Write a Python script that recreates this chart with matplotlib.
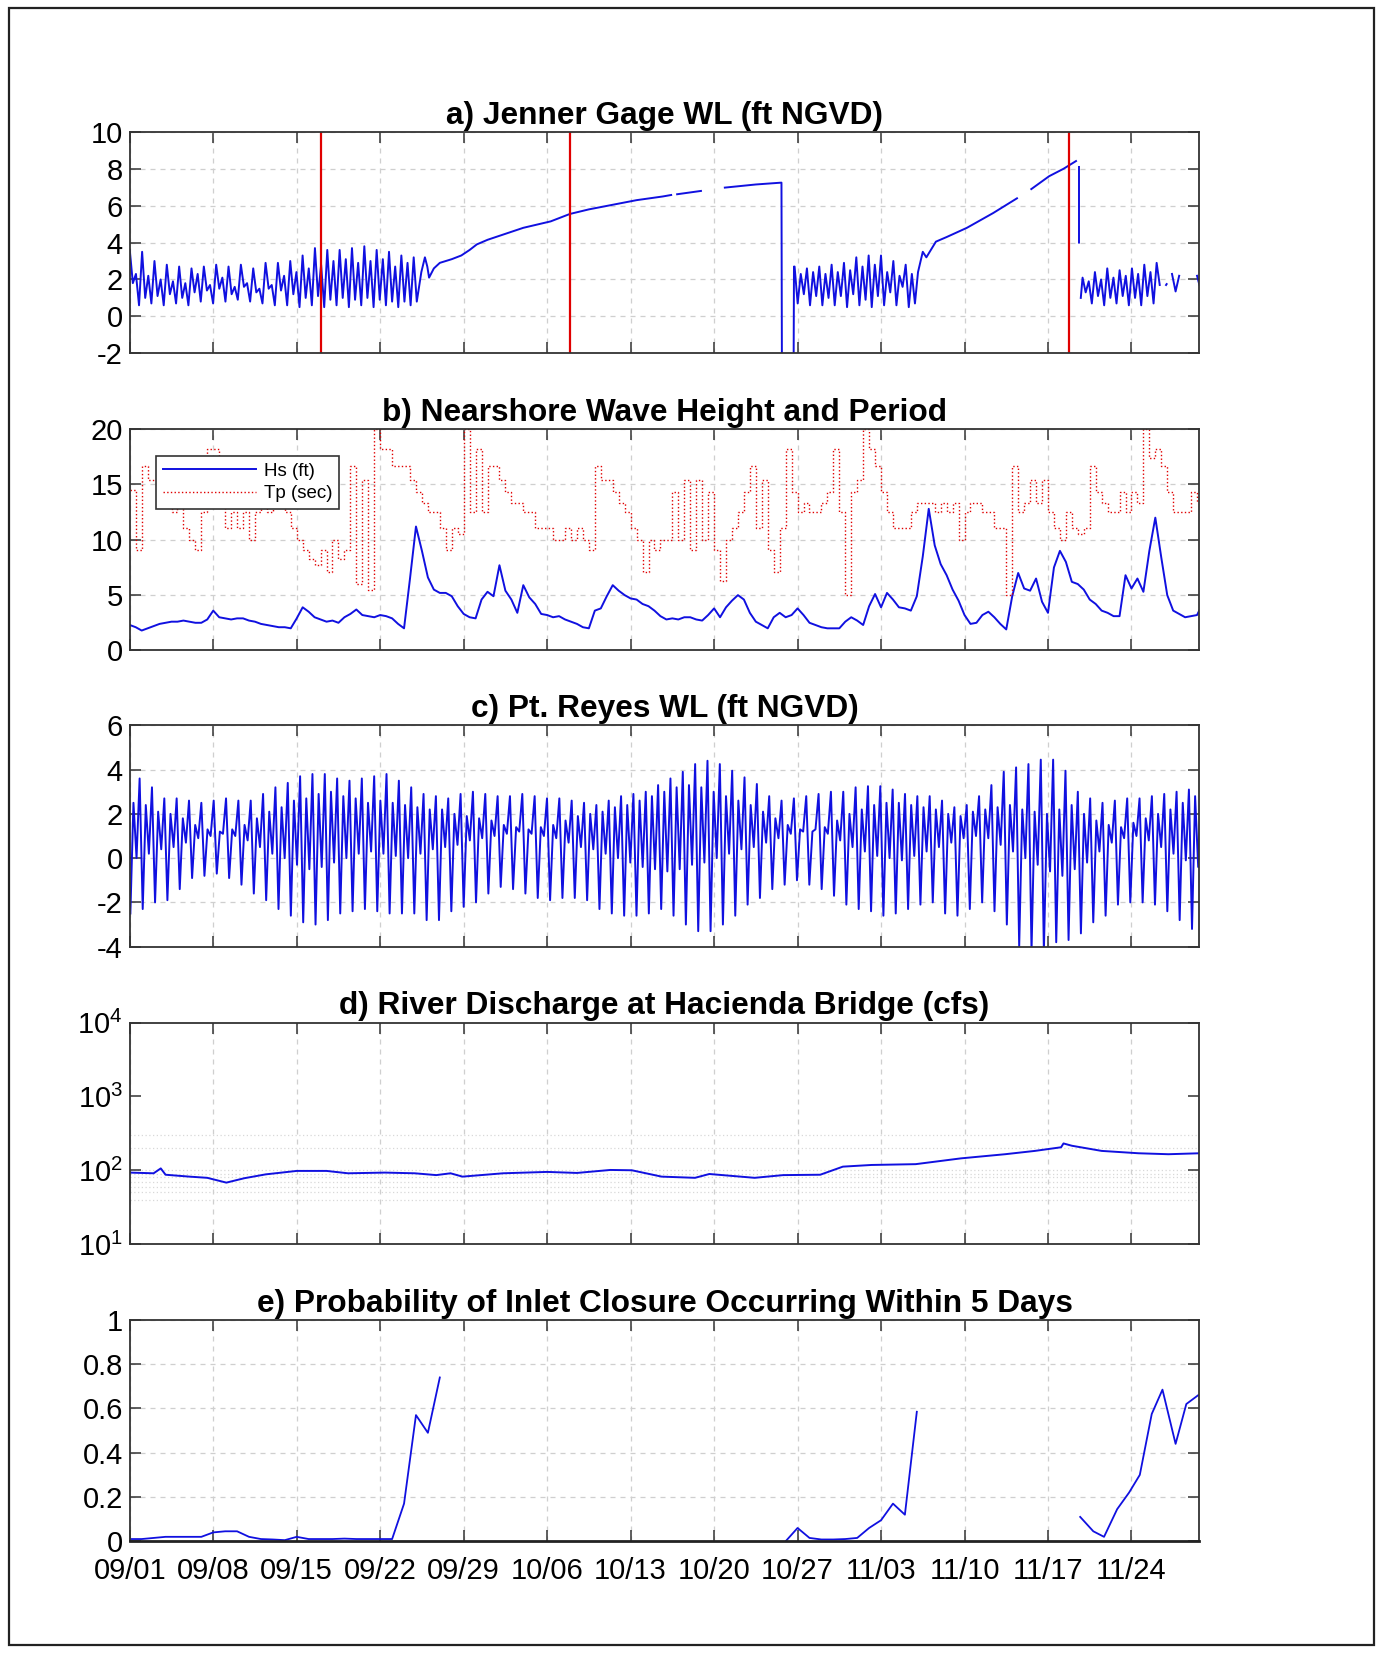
import numpy as np
import matplotlib
matplotlib.use("Agg")
import matplotlib.pyplot as plt
from matplotlib.patches import Rectangle

plt.rcParams['font.family'] = ['Liberation Sans', 'DejaVu Sans']
plt.rcParams['mathtext.default'] = 'regular'
plt.rcParams['axes.unicode_minus'] = False

# time axis: days after 09/01 00:00
x_end = 89.7
tick_days = [0, 7, 14, 21, 28, 35, 42, 49, 56, 63, 70, 77, 84]
tick_labels = ['09/01', '09/08', '09/15', '09/22', '09/29', '10/06', '10/13',
               '10/20', '10/27', '11/03', '11/10', '11/17', '11/24']
tide_step = 0.2588  # time between tidal extremes, in days

# ---- a) Jenner gage WL: tidal highs / lows, open inlet periods
jen_hi1 = [3.6, 2.3, 3.5, 2.2, 3.0, 2.0, 2.8, 1.9, 2.7, 1.8, 2.6, 2.3, 2.7, 1.7, 2.8, 2.1,
           2.7, 1.6, 2.8, 1.8, 2.6, 1.5, 2.9, 1.7, 2.9, 2.2, 3.0, 2.4, 3.3, 2.6, 3.7, 2.8,
           3.6, 3.0, 3.6, 3.1, 3.7, 2.9, 3.8, 3.0, 3.6, 3.1, 3.5, 2.7, 3.3, 2.9, 3.2]
jen_lo1 = [1.8, 0.6, 1.0, 0.7, 1.1, 0.6, 1.2, 0.7, 1.0, 0.6, 1.3, 0.8, 1.4, 0.7, 1.5, 0.8,
           1.2, 0.9, 1.6, 0.8, 1.3, 0.7, 1.5, 0.6, 1.4, 0.6, 1.2, 0.5, 1.0, 0.6, 1.1, 0.5,
           0.9, 0.6, 1.0, 0.5, 0.9, 0.6, 1.0, 0.5, 0.9, 0.6, 0.8, 0.5, 0.8, 0.6, 0.8]
# closed lagoon filling (first closure) and drop at breach
jen_fill1_day = [24.45, 24.75, 24.95, 25.1, 25.5, 26.0, 27.0, 27.8, 28.5, 29.1, 30.0, 31.6,
                 33.0, 35.3, 36.9, 38.5, 40.9, 42.5, 44.7, 45.4, 45.6, 45.9, 47.9, 48.2,
                 49.9, 52.5, 54.65, 54.7, 55.65, 55.7]
jen_fill1_val = [2.4, 3.2, 2.7, 2.1, 2.6, 2.9, 3.1, 3.3, 3.6, 3.9, 4.15, 4.5,
                 4.8, 5.15, 5.55, 5.8, 6.1, 6.3, 6.5, 6.58, np.nan, 6.62, 6.8, np.nan,
                 6.98, 7.15, 7.25, -6.0, -6.0, 2.7]
jen_hi2 = [2.7, 2.3, 2.6, 2.4, 2.7, 2.3, 2.8, 2.4, 2.9, 2.5, 3.2, 2.7, 3.3, 2.8, 3.3, 2.4,
           3.0, 2.2, 2.8, 2.3]
jen_lo2 = [0.7, 1.2, 0.6, 1.1, 0.6, 1.0, 0.6, 1.1, 0.5, 1.2, 0.6, 0.9, 0.5, 1.1, 0.6, 1.3,
           0.6, 1.6, 0.5, 0.7]
jen_fill2_day = [66.1, 66.5, 66.8, 67.6, 68.5, 70.2, 72.4, 74.4, 74.6, 74.9, 75.3, 75.6,
                 77.1, 78.3, 79.35, 79.45, 79.6, 79.6, 79.7, 79.75]
jen_fill2_val = [2.4, 3.5, 3.2, 4.05, 4.3, 4.8, 5.6, 6.4, np.nan, 6.55, np.nan, 6.9,
                 7.6, 8.0, 8.42, np.nan, 8.1, 4.0, np.nan, 1.0]
jen_hi3 = [2.1, 1.9, 2.4, 2.0, 2.6, 2.1, 2.5, 2.2, 2.6, 2.3, 2.8, 2.4, 2.9]
jen_lo3 = [1.3, 0.7, 1.1, 0.6, 1.0, 0.7, 1.1, 0.6, 1.0, 0.6, 1.1, 0.7, 1.7]
jen_tail_day = [86.5, 86.9, 86.95, 87.1, 87.4, 87.7, 88.0, 88.3, 89.5, 89.7]
jen_tail_val = [np.nan, 1.7, 1.75, np.nan, 2.3, 1.35, 2.2, np.nan, 2.2, 1.7]
breach_days = [16.0, 36.9, 78.8]

# ---- b) nearshore Hs (ft) and Tp (s), every 12 h from 09/01
hs = [2.3, 2.1, 1.8, 2.0, 2.2, 2.4, 2.5, 2.6, 2.6, 2.7, 2.6, 2.5, 2.5, 2.8, 3.6, 3.0,
      2.9, 2.8, 2.9, 2.9, 2.7, 2.6, 2.4, 2.3, 2.2, 2.1, 2.1, 2.0, 2.9, 3.9, 3.5, 3.0,
      2.8, 2.6, 2.7, 2.5, 3.0, 3.3, 3.7, 3.2, 3.1, 3.0, 3.2, 3.1, 2.9, 2.4, 2.0, 6.5,
      11.2, 9.0, 6.6, 5.5, 5.2, 5.2, 4.9, 4.0, 3.3, 3.0, 2.9, 4.6, 5.3, 4.9, 7.7, 5.4,
      4.6, 3.4, 5.9, 4.8, 4.2, 3.3, 3.2, 3.0, 3.1, 2.8, 2.6, 2.4, 2.1, 2.0, 3.6, 3.8,
      4.9, 5.9, 5.4, 5.0, 4.7, 4.6, 4.2, 4.0, 3.6, 3.1, 2.8, 2.9, 2.8, 3.0, 3.0, 2.8,
      2.7, 3.2, 3.8, 3.0, 3.9, 4.5, 5.0, 4.6, 3.4, 2.6, 2.3, 2.0, 3.0, 3.4, 3.0, 3.2,
      3.8, 3.2, 2.5, 2.3, 2.1, 2.0, 2.0, 2.0, 2.6, 3.0, 2.7, 2.3, 4.0, 5.1, 3.9, 5.2,
      4.6, 3.9, 3.8, 3.6, 4.9, 8.5, 12.8, 9.5, 7.8, 6.8, 5.5, 4.5, 3.2, 2.4, 2.5, 3.2,
      3.5, 3.0, 2.4, 1.9, 4.9, 7.0, 5.6, 5.4, 6.5, 4.4, 3.4, 7.5, 9.0, 8.0, 6.2, 6.0,
      5.5, 4.6, 4.2, 3.6, 3.4, 3.1, 3.1, 6.8, 5.6, 6.5, 5.3, 9.0, 12.0, 8.4, 5.0, 3.6,
      3.3, 3.0, 3.1, 3.2, 4.3]
tp = [14.5, 9.1, 16.7, 15.4, 15.4, 14.3, 14.3, 12.5, 14.3, 11.1, 10.0, 9.1, 12.5, 18.2, 18.2, 14.3,
      11.1, 12.5, 11.1, 12.5, 10.0, 12.5, 14.3, 12.5, 14.3, 13.3, 12.5, 11.1, 10.0, 9.1, 8.3, 7.7,
      9.1, 7.1, 10.0, 8.3, 9.1, 16.7, 6.0, 15.4, 5.5, 20.0, 18.2, 18.2, 16.7, 16.7, 16.7, 15.4,
      14.3, 13.3, 12.5, 12.5, 11.1, 9.1, 11.1, 10.5, 20.0, 12.5, 18.2, 12.5, 16.7, 16.7, 15.4, 14.3,
      13.3, 13.3, 12.5, 12.5, 11.1, 11.1, 11.1, 10.0, 10.0, 11.1, 10.0, 11.1, 10.0, 9.1, 16.7, 15.4,
      15.4, 14.3, 13.3, 12.5, 11.1, 10.0, 7.1, 10.0, 9.1, 10.0, 10.0, 14.3, 10.0, 15.4, 9.1, 15.4,
      10.0, 14.3, 9.1, 6.3, 10.0, 11.1, 12.5, 14.3, 16.7, 11.1, 15.4, 9.1, 7.1, 11.1, 18.2, 14.3,
      12.5, 13.3, 12.5, 12.5, 13.3, 14.3, 18.2, 12.5, 5.0, 14.3, 15.4, 20.0, 18.2, 16.7, 14.3, 12.5,
      11.1, 11.1, 11.1, 12.5, 13.3, 13.3, 13.3, 12.5, 13.3, 12.5, 13.3, 10.0, 12.5, 13.3, 13.3, 12.5,
      12.5, 11.1, 11.1, 5.0, 16.7, 12.5, 13.3, 15.4, 13.3, 15.4, 12.5, 11.1, 10.0, 12.5, 11.1, 10.5,
      11.1, 16.7, 14.3, 13.3, 12.5, 12.5, 14.3, 12.5, 14.3, 13.3, 20.0, 17.4, 18.2, 16.7, 14.3, 12.5,
      12.5, 12.5, 14.3, 13.3]

# ---- c) Pt. Reyes WL, per tidal day: lower low, lower high, higher low, higher high
reyes_ll = [-2.5, -2.3, -2.0, -1.9, -1.4, -0.9, -0.8, -0.7, -0.9, -1.2,
            -1.6, -1.9, -2.3, -2.6, -2.9, -3.0, -2.8, -2.5, -2.4, -2.3,
            -2.4, -2.5, -2.5, -2.5, -2.8, -2.8, -2.4, -2.2, -2.0, -1.6,
            -1.3, -1.4, -1.6, -1.8, -1.9, -1.8, -1.8, -1.9, -2.3, -2.5,
            -2.6, -2.6, -2.5, -2.3, -2.6, -3.0, -3.3, -3.3, -3.0, -2.6,
            -2.1, -1.8, -1.4, -1.2, -1.0, -1.2, -1.4, -1.7, -2.1, -2.3,
            -2.4, -2.6, -2.5, -2.3, -2.1, -2.0, -2.5, -2.6, -2.3, -2.0,
            -2.4, -3.0, -4.0, -4.2, -4.2, -3.8, -3.7, -3.4, -2.9, -2.6,
            -2.1, -2.0, -2.0, -2.1, -2.4, -2.8, -3.2]
reyes_lh = [2.5, 2.4, 2.1, 2.0, 1.8, 1.5, 1.3, 1.2, 1.3, 1.5,
            1.8, 2.1, 2.3, 2.6, 2.7, 2.9, 3.0, 2.8, 2.7, 2.5,
            2.6, 2.5, 2.4, 2.3, 2.2, 2.2, 2.0, 1.9, 1.8, 1.7,
            1.5, 1.4, 1.3, 1.4, 1.5, 1.7, 1.9, 2.0, 2.1, 2.3,
            2.4, 2.6, 2.8, 3.0, 3.2, 3.3, 3.2, 3.0, 2.8, 2.6,
            2.4, 2.1, 1.8, 1.5, 1.3, 1.2, 1.4, 1.7, 2.0, 2.2,
            2.4, 2.5, 2.5, 2.4, 2.3, 2.2, 2.0, 1.9, 2.1, 2.2,
            2.3, 2.4, 2.2, 2.1, 2.0, 2.2, 2.4, 2.0, 1.7, 1.5,
            1.4, 1.6, 1.8, 2.0, 2.2, 2.5, 2.8]
reyes_hl = [0.0, 0.2, 0.4, 0.5, 0.7, 0.9, 1.0, 1.1, 1.0, 0.8,
            0.5, 0.2, 0.0, -0.3, -0.5, -0.4, -0.2, 0.0, 0.2, 0.3,
            0.2, 0.1, 0.0, 0.2, 0.4, 0.5, 0.6, 0.8, 0.9, 1.0,
            1.1, 1.2, 1.1, 1.0, 0.9, 0.7, 0.5, 0.4, 0.2, 0.0,
            -0.2, -0.4, -0.5, -0.6, -0.5, -0.3, -0.2, 0.0, 0.2, 0.4,
            0.5, 0.7, 0.9, 1.1, 1.2, 1.3, 1.1, 0.8, 0.5, 0.3,
            0.1, 0.0, -0.1, 0.1, 0.3, 0.5, 0.7, 0.9, 1.0, 0.9,
            0.6, 0.3, 0.0, -0.3, -0.6, -0.8, -0.5, -0.2, 0.3, 0.7,
            0.9, 1.0, 0.8, 0.5, 0.2, -0.1, -0.4]
reyes_hh = [3.6, 3.2, 2.7, 2.7, 2.6, 2.5, 2.6, 2.7, 2.6, 2.6,
            2.9, 3.2, 3.4, 3.7, 3.8, 3.8, 3.6, 3.5, 3.6, 3.7,
            3.8, 3.5, 3.2, 2.9, 2.8, 2.7, 2.9, 3.0, 2.9, 2.8,
            2.8, 2.9, 2.8, 2.7, 2.7, 2.6, 2.5, 2.4, 2.6, 2.8,
            2.9, 3.0, 3.3, 3.6, 3.9, 4.25, 4.4, 4.25, 3.95, 3.65,
            3.35, 2.8, 2.6, 2.7, 2.8, 2.9, 3.0, 3.0, 3.2, 3.25,
            3.25, 3.1, 2.9, 2.8, 2.8, 2.6, 2.3, 2.4, 2.8, 3.3,
            3.9, 4.1, 4.25, 4.45, 4.45, 3.95, 3.0, 2.7, 2.5, 2.6,
            2.7, 2.7, 2.8, 2.9, 3.0, 3.1, 3.2]

# ---- d) river discharge (cfs)
q_day = [0, 2.0, 2.6, 3.0, 5.0, 6.5, 8.1, 9.6, 11.4, 14.0, 16.5, 18.3, 21.4, 23.9, 25.7,
         26.9, 27.9, 31.3, 35.0, 37.5, 40.3, 42.1, 44.6, 47.4, 48.6, 52.4, 54.8, 57.9,
         59.8, 62.2, 65.9, 69.7, 73.4, 75.9, 78.1, 78.3, 79.0, 81.5, 84.6, 87.1, 89.7]
q_cfs = [93, 91, 106, 87, 82, 79, 68, 78, 88, 98, 98, 91, 93, 91, 86,
         91, 82, 91, 95, 92, 101, 100, 82, 79, 89, 79, 86, 87,
         112, 118, 121, 145, 165, 183, 205, 231, 215, 183, 170, 165, 170]
q_grid = [40, 50, 60, 70, 80, 90, 100, 200, 300]

# ---- e) probability of closure within 5 days
p1_day = [0, 1, 2, 3, 4, 5, 6, 7, 8, 9, 10, 11, 12, 13, 14, 15, 16, 17, 18, 19, 20, 21,
          22, 23, 24, 25, 26]
p1 = [0.01, 0.01, 0.015, 0.02, 0.02, 0.02, 0.02, 0.04, 0.045, 0.045, 0.02, 0.01, 0.008,
      0.005, 0.02, 0.01, 0.01, 0.01, 0.012, 0.01, 0.01, 0.01, 0.01, 0.17, 0.57, 0.49, 0.74]
p2_day = [55, 56, 57, 58, 59, 60, 61, 62, 63, 64, 65, 66]
p2 = [0.0, 0.06, 0.015, 0.008, 0.008, 0.01, 0.015, 0.06, 0.095, 0.17, 0.12, 0.585]
p3_day = [79.7, 80.8, 81.7, 82.8, 83.8, 84.7, 85.7, 86.6, 87.7, 88.6, 89.6]
p3 = [0.11, 0.045, 0.02, 0.145, 0.22, 0.30, 0.575, 0.685, 0.44, 0.62, 0.66]


def tides(start, hi, lo):
    vals = np.empty(len(hi) + len(lo))
    vals[0::2] = hi
    vals[1::2] = lo
    return start + np.arange(len(vals)) * tide_step, vals


def style(ax, labels=False):
    ax.set_xlim(0, x_end)
    ax.set_xticks(tick_days)
    if labels:
        ax.set_xticklabels(tick_labels)
    else:
        ax.set_xticklabels([])
    ax.grid(True, which='major', color='#cfcfcf', ls=(0, (4, 4)), lw=0.9)
    ax.tick_params(direction='in', top=True, right=True, length=8, width=1.1,
                   labelsize=21, pad=5, color='#333333')
    ax.tick_params(axis='x', pad=11)
    for s in ax.spines.values():
        s.set_color('#333333')
        s.set_linewidth(1.3)


fig = plt.figure(figsize=(13.82, 16.53), dpi=100)
L, W, H = 0.0939, 0.774, 0.1339
blue = '#1010e0'
tfont = dict(fontsize=22.8, fontweight='bold')

# a)
ax = fig.add_axes([L, 0.7863, W, H])
t1, v1 = tides(0.0, jen_hi1, jen_lo1)
t2, v2 = tides(55.75, jen_hi2, jen_lo2)
t3, v3 = tides(79.9, jen_hi3, jen_lo3)
ta = np.concatenate([t1, jen_fill1_day, t2, jen_fill2_day, t3, jen_tail_day])
va = np.concatenate([v1, jen_fill1_val, v2, jen_fill2_val, v3, jen_tail_val])
ax.plot(ta, va, color=blue, lw=1.4)
for d in breach_days:
    ax.axvline(d, color='#e00000', lw=1.6)
ax.set_ylim(-2, 10)
ax.set_yticks([-2, 0, 2, 4, 6, 8, 10])
style(ax)
ax.set_title('a) Jenner Gage WL (ft NGVD)', pad=6, **tfont)

# b)
ax = fig.add_axes([L, 0.6065, W, H])
hs_day = np.arange(len(hs)) * 0.5
tp_day = np.arange(len(tp)) * 0.5
ax.plot(hs_day, hs, color=blue, lw=1.4, label='Hs (ft)')
ax.plot(tp_day, tp, color='#e00000', lw=1.0, ls=':', drawstyle='steps-post', label='Tp (sec)')
ax.set_ylim(0, 20)
ax.set_yticks([0, 5, 10, 15, 20])
style(ax)
leg = ax.legend(loc='upper left', bbox_to_anchor=(0.0246, 0.879), fontsize=13.5,
                handlelength=5.0, borderpad=0.35, labelspacing=0.3, handletextpad=0.4,
                fancybox=False, framealpha=1, edgecolor='#333333', borderaxespad=0)
leg.get_frame().set_linewidth(1.2)
ax.set_title('b) Nearshore Wave Height and Period', pad=6, **tfont)

# c)
ax = fig.add_axes([L, 0.4273, W, H])
vc = np.column_stack([reyes_ll, reyes_lh, reyes_hl, reyes_hh]).ravel()
tc = 0.05 + np.arange(len(vc)) * tide_step
ax.plot(tc, vc, color=blue, lw=1.4)
ax.set_ylim(-4, 6)
ax.set_yticks([-4, -2, 0, 2, 4, 6])
style(ax)
ax.set_title('c) Pt. Reyes WL (ft NGVD)', pad=6, **tfont)

# d)
ax = fig.add_axes([L, 0.2474, W, H])
ax.plot(q_day, q_cfs, color=blue, lw=1.4)
ax.set_yscale('log')
ax.set_ylim(10, 1e4)
ax.set_yticks([10, 100, 1000, 10000])
ax.set_yticklabels(['$10^{1}$', '$10^{2}$', '$10^{3}$', '$10^{4}$'])
style(ax)
ax.grid(False, axis='y')
for g in q_grid:
    ax.axhline(g, color='#d8d8d8', ls=(0, (1, 2)), lw=0.9, zorder=0)
ax.tick_params(which='minor', direction='in', left=True, right=True, length=4,
               width=0.9, color='#333333')
ax.set_title('d) River Discharge at Hacienda Bridge (cfs)', pad=6, **tfont)

# e)
ax = fig.add_axes([L, 0.0676, W, H])
ax.plot(p1_day, p1, color=blue, lw=1.3)
ax.plot(p2_day, p2, color=blue, lw=1.3)
ax.plot(p3_day, p3, color=blue, lw=1.3)
ax.set_ylim(0, 1)
ax.set_yticks([0, 0.2, 0.4, 0.6, 0.8, 1])
ax.set_yticklabels(['0', '0.2', '0.4', '0.6', '0.8', '1'])
style(ax, labels=True)
ax.spines['bottom'].set_linewidth(2.0)
ax.spines['bottom'].set_color('#222222')
ax.set_title('e) Probability of Inlet Closure Occurring Within 5 Days', pad=6, **tfont)

# page frame
fig.add_artist(Rectangle((8.5 / 1382, 8 / 1653), 1 - 17 / 1382, 1 - 16 / 1653,
                         transform=fig.transFigure, fill=False, ec='#222222', lw=1.6))

fig.savefig('out.png', dpi=100)
